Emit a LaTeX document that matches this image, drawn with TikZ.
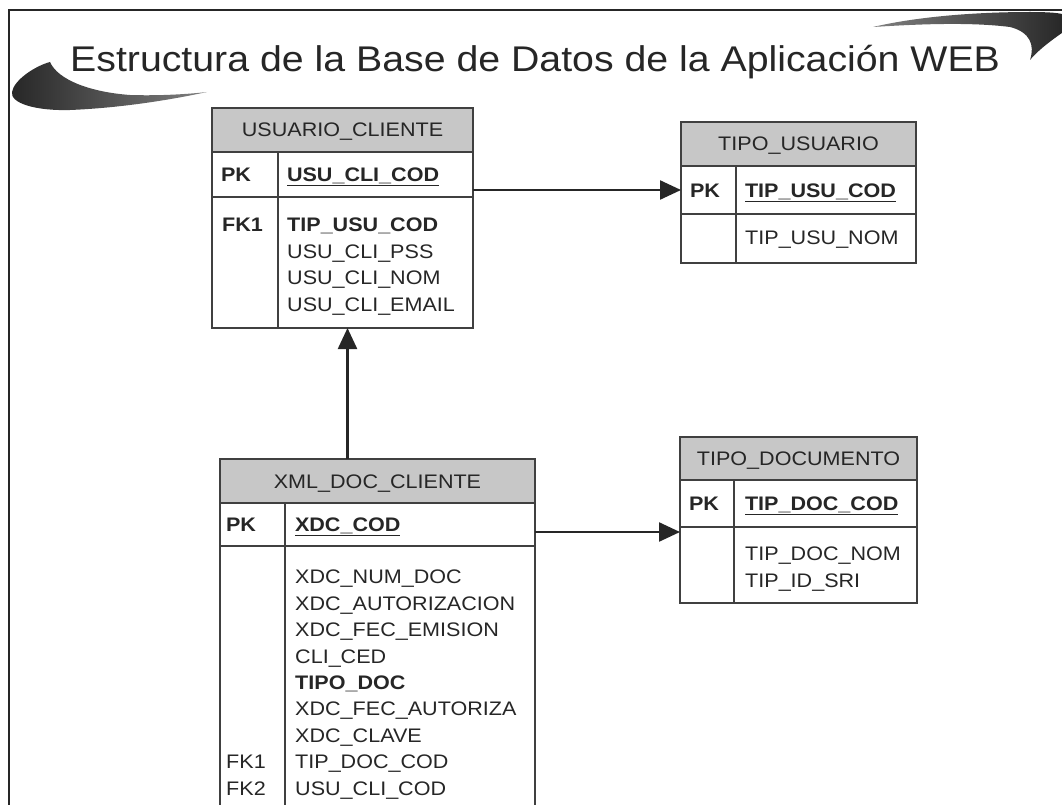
\documentclass[tikz,border=0pt]{standalone}
\usepackage{fontspec}
\setmainfont{Liberation Sans}[FakeStretch=1.1]
\usepackage{tikz}
\usetikzlibrary{arrows.meta, calc, positioning}

\newcommand{\tabfont}{\fontsize{19.6}{26.4}\selectfont}

\tikzset{
  tbl/.style={draw=black!75, line width=1.6pt, inner sep=0pt, outer sep=0pt, anchor=north west},
  hdrcell/.style={tbl, fill=black!22, font=\tabfont, text height=14pt, text depth=0pt},
  keycell/.style={tbl, fill=white, font=\tabfont\bfseries, inner xsep=9pt, align=left, text height=14pt, text depth=0pt},
  pkcell/.style={tbl, fill=white, font=\tabfont\bfseries, inner xsep=9pt, align=left, text height=14pt, text depth=0pt},
  fldtxt/.style={anchor=north west, inner sep=0pt, align=left, font=\tabfont},
  fk/.style={draw=black!85, line width=2.4pt, -{Triangle[length=21pt,width=19pt]}},
  frame/.style={draw=black!85, line width=2.4pt},
}

\begin{document}
\begin{tikzpicture}[x=1pt, y=-1pt, text=black!85]
    \useasboundingbox (0,0) rectangle (1062,805);
    % frame and title
    \draw[frame] (9,805) -- (9,10) -- (1062,10);
    \shade[left color=black!85, middle color=white, right color=black!50]
        (50,62) .. controls (58,80) and (90,92) .. (130,95)
        .. controls (160,96) and (190,94) .. (207,92)
        .. controls (170,100) and (120,108) .. (70,110)
        .. controls (35,111) and (10,103) .. (12,92)
        .. controls (14,80) and (35,66) .. (50,62) -- cycle;
    \shade[left color=black!50, middle color=white, right color=black!85]
        (873,27) .. controls (920,16) and (980,12) .. (1030,12)
        .. controls (1050,12) and (1060,13) .. (1066,15)
        -- (1066,30)
        .. controls (1055,38) and (1040,48) .. (1030,60)
        .. controls (1035,45) and (1030,32) .. (1010,27)
        .. controls (970,22) and (920,24) .. (873,27) -- cycle;
    \node[anchor=base west, inner sep=0pt, font=\fontsize{35.7}{40}\selectfont] (title) at (70,72)
        {Estructura de la Base de Datos de la Aplicación WEB};

    % USUARIO_CLIENTE
    \node[hdrcell, minimum width=261, minimum height=44] (uc-h) at (212,108) {USUARIO\_CLIENTE};
    \node[keycell, text width=48, minimum height=45] (uc-pkk) at (uc-h.south west) {PK};
    \node[pkcell, text width=177, minimum height=45] (uc-pkf) at (uc-pkk.north east) {\underline{USU\_CLI\_COD}};
    \node[tbl, minimum width=66, minimum height=131] (uc-bk) at (uc-pkk.south west) {};
    \node[tbl, minimum width=195, minimum height=131] (uc-bf) at (uc-bk.north east) {};
    \node[fldtxt, font=\tabfont\bfseries] (uc-bkt) at ([shift={(10,21)}]uc-bk.north west) {FK1};
    \node[fldtxt] (uc-bft) at ([shift={(9,21)}]uc-bf.north west)
        {\textbf{TIP\_USU\_COD}\\USU\_CLI\_PSS\\USU\_CLI\_NOM\\USU\_CLI\_EMAIL};

    % TIPO_USUARIO
    \node[hdrcell, minimum width=235, minimum height=44] (tu-h) at (681,122) {TIPO\_USUARIO};
    \node[keycell, text width=37, minimum height=48] (tu-pkk) at (tu-h.south west) {PK};
    \node[pkcell, text width=162, minimum height=48] (tu-pkf) at (tu-pkk.north east) {\underline{TIP\_USU\_COD}};
    \node[tbl, minimum width=55, minimum height=49] (tu-bk) at (tu-pkk.south west) {};
    \node[tbl, minimum width=180, minimum height=49] (tu-bf) at (tu-bk.north east) {};
    \node[fldtxt] (tu-bft) at ([shift={(9,17)}]tu-bf.north west) {TIP\_USU\_NOM};

    % XML_DOC_CLIENTE
    \node[hdrcell, minimum width=315, minimum height=44] (xdc-h) at (220,459) {XML\_DOC\_CLIENTE};
    \node[keycell, inner xsep=6pt, text width=53, minimum height=43] (xdc-pkk) at (xdc-h.south west) {PK};
    \node[pkcell, inner xsep=10pt, text width=230, minimum height=43] (xdc-pkf) at (xdc-pkk.north east) {\underline{XDC\_COD}};
    \node[tbl, minimum width=65, minimum height=274] (xdc-bk) at (xdc-pkk.south west) {};
    \node[tbl, minimum width=250, minimum height=274] (xdc-bf) at (xdc-bk.north east) {};
    \node[fldtxt] (xdc-bft) at ([shift={(10,24)}]xdc-bf.north west)
        {XDC\_NUM\_DOC\\XDC\_AUTORIZACION\\XDC\_FEC\_EMISION\\CLI\_CED\\\textbf{TIPO\_DOC}\\
         XDC\_FEC\_AUTORIZA\\XDC\_CLAVE\\TIP\_DOC\_COD\\USU\_CLI\_COD};
    \node[fldtxt] (xdc-bkt) at ([shift={(6,209)}]xdc-bk.north west) {FK1\\FK2};

    % TIPO_DOCUMENTO
    \node[hdrcell, minimum width=237, minimum height=43] (td-h) at (680,437) {TIPO\_DOCUMENTO};
    \node[keycell, text width=36, minimum height=47] (td-pkk) at (td-h.south west) {PK};
    \node[pkcell, inner xsep=11pt, text width=161, minimum height=47] (td-pkf) at (td-pkk.north east) {\underline{TIP\_DOC\_COD}};
    \node[tbl, minimum width=54, minimum height=76] (td-bk) at (td-pkk.south west) {};
    \node[tbl, minimum width=183, minimum height=76] (td-bf) at (td-bk.north east) {};
    \node[fldtxt] (td-bft) at ([shift={(11,20)}]td-bf.north west) {TIP\_DOC\_NOM\\TIP\_ID\_SRI};

    % relations
    \draw[fk] (uc-pkf.east |- tu-pkk.west) -- (tu-pkk.west);
    \coordinate (td-in) at ([shift={(0,5)}]td-pkk.south west);
    \draw[fk] (xdc-pkf.east |- td-in) -- (td-in);
    \coordinate (uc-in) at ([shift={(5,0)}]uc-bf.south -| uc-h.south);
    \draw[fk] (xdc-h.north -| uc-in) -- (uc-in);
\end{tikzpicture}
\end{document}
